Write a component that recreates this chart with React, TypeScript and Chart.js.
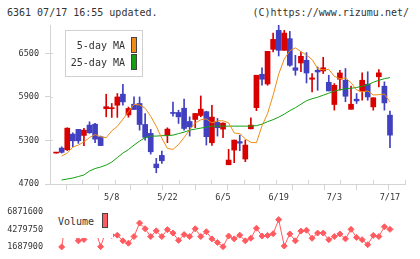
import React, { useEffect, useRef } from "react";
import { Chart, registerables } from "chart.js";

Chart.register(...registerables);

// ---- data -------------------------------------------------------------
const labelIdx = [10, 20, 30, 40, 50, 60];
const labelText = ["5/8", "5/22", "6/5", "6/19", "7/3", "7/17"];

const open = [
  5126, 5195, 5171, 5387, 5452, 5369, 5511, 5524, 5350, 5737,
  5737, 5785, 5937, 5652, 5799, 5809, 5520, 5397, 4975, 5094,
  5373, 5685, 5685, 5744, 5561, 5589, 5644, 5696, 5268, 5548,
  5456, 4965, 5167, 5284, 5044, 5460, 5751, 6211, 6078, 6555,
  6816, 6541, 6702, 6301, 6367, 6404, 6143, 6266, 6257, 6101,
  5795, 6143, 6129, 5729, 5868, 5978, 6074, 5762, 6177, 6047,
  5648,
];
const high = [
  5126, 5212, 5475, 5405, 5452, 5466, 5556, 5534, 5360, 5937,
  5809, 5946, 6074, 5760, 5899, 5899, 5671, 5452, 5053, 5153,
  5474, 5827, 5717, 5868, 5625, 5671, 5913, 5703, 5785, 5603,
  5542, 5177, 5305, 5373, 5305, 5611, 6198, 6301, 6527, 6779,
  6885, 6816, 6802, 6472, 6518, 6510, 6221, 6312, 6445, 6198,
  6083, 6266, 6290, 6047, 5946, 6230, 6246, 5888, 6276, 6107,
  5703,
];
const low = [
  5126, 5126, 5160, 5212, 5259, 5229, 5398, 5269, 5229, 5625,
  5617, 5617, 5785, 5620, 5726, 5442, 5305, 5112, 4855, 4984,
  5269, 5634, 5534, 5442, 5360, 5476, 5625, 5236, 5231, 5360,
  5339, 4965, 4993, 5158, 5007, 5460, 5710, 6060, 6060, 6518,
  6463, 6541, 6321, 6198, 6246, 6092, 5968, 5991, 6221, 5982,
  5717, 5991, 5833, 5729, 5809, 5854, 5854, 5717, 6037, 5717,
  5199,
];
const close = [
  5126, 5136, 5469, 5295, 5295, 5442, 5405, 5318, 5229, 5765,
  5751, 5899, 5831, 5740, 5726, 5520, 5342, 5144, 4924, 5020,
  5456, 5672, 5625, 5465, 5488, 5671, 5731, 5351, 5621, 5476,
  5538, 5030, 5305, 5262, 5236, 5511, 6198, 6143, 6527, 6692,
  6541, 6779, 6335, 6266, 6459, 6229, 6161, 6243, 6301, 5982,
  6060, 6230, 5909, 5799, 5844, 6129, 5899, 5888, 6231, 5817,
  5373,
];
const ma5 = [
  null, 5085, 5126, 5208, 5236, 5280, 5340, 5381, 5351, 5338,
  5432, 5494, 5592, 5695, 5797, 5789, 5743, 5632, 5494, 5331,
  5190, 5177, 5243, 5339, 5448, 5541, 5584, 5596, 5541, 5572,
  5570, 5543, 5403, 5394, 5322, 5274, 5269, 5502, 5670, 5923,
  6214, 6420, 6536, 6575, 6523, 6476, 6414, 6290, 6272, 6279,
  6183, 6149, 6163, 6096, 5996, 5968, 5982, 5926, 5930, 5937,
  5831,
];
const ma25 = [
  null, 4755, 4769, 4782, 4803, 4824, 4879, 4913, 4934, 4961,
  5002, 5064, 5126, 5174, 5236, 5291, 5339, 5360, 5360, 5366,
  5366, 5373, 5394, 5414, 5442, 5456, 5470, 5483, 5497, 5497,
  5497, 5497, 5497, 5497, 5497, 5497, 5504, 5524, 5559, 5586,
  5621, 5662, 5710, 5751, 5799, 5847, 5875, 5895, 5923, 5950,
  5978, 5998, 6012, 6019, 6029, 6047, 6067, 6101, 6129, 6150,
  6166,
];
const volume = [
  null, 1687900, 6871600, 3527300, 2588300, 2794100, 3913150, 4427650, 1726500, 4170400,
  3398600, 3437200, 2588300, 2241000, 3231400, 5238000, 4389100, 3231400, 4080400, 3231400,
  4260400, 3745900, 2665500, 3527300, 3231400, 4389100, 3231400, 3951700, 2884100, 2331000,
  1720000, 3308600, 2884100, 3437200, 2588300, 2974200, 4466200, 3308600, 3398600, 3655900,
  5752500, 1816500, 3617300, 2588300, 4041800, 4170400, 2974200, 3745900, 3745900, 2755500,
  3231400, 3617300, 2884100, 4299000, 3102800, 2755500, 2022300, 3398600, 3231400, 4684900,
  4299000,
];
const priceTicks = [4700, 5300, 5900, 6500];
const volumeTicks = [1687900, 4279750, 6871600];

// ---- styling ----------------------------------------------------------
const X_MIN = -1.1;
const X_MAX = 62.7;
const FONT = "'DejaVu Sans Mono', monospace";
const TEXT = "#333333";
const GRID = "#d4d4d4";
const UP = "#d90000";
const DOWN = "#4040c0";
const ORANGE = "#f08c14";
const GREEN = "#12a012";
const VOL = "#ff5a5f";

const candleColors = open.map((o, i) => (close[i] >= o ? UP : DOWN));
const tickFont = { family: FONT, size: 8.5 };

// short tick marks that cross into the plot from the axis lines
const innerTicks = {
  id: "innerTicks",
  beforeDatasetsDraw(chart: any) {
    const { ctx, chartArea, scales } = chart;
    ctx.save();
    ctx.strokeStyle = GRID;
    ctx.lineWidth = 1;
    scales.y.ticks.forEach((t: any) => {
      const py = Math.round(scales.y.getPixelForValue(t.value)) + 0.5;
      ctx.beginPath();
      ctx.moveTo(chartArea.left, py);
      ctx.lineTo(chartArea.left + 3, py);
      ctx.stroke();
    });
    scales.xg.ticks.forEach((t: any) => {
      const px = Math.round(scales.xg.getPixelForValue(t.value)) + 0.5;
      ctx.beginPath();
      ctx.moveTo(px, chartArea.bottom - 4);
      ctx.lineTo(px, chartArea.bottom);
      ctx.stroke();
    });
    ctx.restore();
  },
};

function PriceChart() {
  const ref = useRef<HTMLCanvasElement | null>(null);
  useEffect(() => {
    if (!ref.current) return;
    const divisions = 11;
    const gridTicks = Array.from({ length: divisions + 1 }, (_, k) => ({
      value: X_MIN + (k * (X_MAX - X_MIN)) / divisions,
    }));
    const chart = new Chart(ref.current, {
      type: "bar",
      data: {
        datasets: [
          {
            type: "line",
            label: "5-day MA",
            data: ma5.map((v, i) => ({ x: i, y: v })) as any,
            borderColor: ORANGE,
            borderWidth: 1,
            pointRadius: 0,
            order: 0,
          } as any,
          {
            type: "line",
            label: "25-day MA",
            data: ma25.map((v, i) => ({ x: i, y: v })) as any,
            borderColor: GREEN,
            borderWidth: 1,
            pointRadius: 0,
            order: 1,
          } as any,
          {
            label: "body",
            data: open.map((o, i) => ({ x: i, y: [o, close[i]] })) as any,
            backgroundColor: candleColors,
            barThickness: 5,
            minBarLength: 1,
            grouped: false,
            order: 2,
          },
          {
            label: "wick",
            data: low.map((l, i) => ({ x: i, y: [l, high[i]] })) as any,
            backgroundColor: candleColors,
            barThickness: 1,
            grouped: false,
            order: 3,
          },
        ],
      },
      options: {
        responsive: false,
        animation: false,
        layout: { padding: { left: 0, right: 15, top: 25, bottom: 0 } },
        plugins: { legend: { display: false }, tooltip: { enabled: false } },
        scales: {
          x: {
            type: "linear",
            min: X_MIN,
            max: X_MAX,
            offset: false,
            position: "bottom",
            weight: 1,
            grid: { display: false, drawTicks: false },
            border: { display: false },
            ticks: {
              font: tickFont,
              color: TEXT,
              padding: 3,
              maxRotation: 0,
              autoSkip: false,
              callback: (_v: any, idx: number) => labelText[idx],
            },
            afterBuildTicks: (s: any) => {
              s.ticks = labelIdx.map((v) => ({ value: v }));
            },
            afterFit: (s: any) => {
              s.height = 15;
            },
          },
          xg: {
            type: "linear",
            min: X_MIN,
            max: X_MAX,
            offset: false,
            position: "bottom",
            weight: 0,
            grid: { drawOnChartArea: false, drawTicks: true, tickLength: 6, color: GRID },
            border: { display: true, color: GRID },
            ticks: { display: false },
            afterBuildTicks: (s: any) => {
              s.ticks = gridTicks;
            },
            afterFit: (s: any) => {
              s.height = 6;
            },
          },
          y: {
            min: 4700,
            max: 6890,
            grid: { drawOnChartArea: false, drawTicks: true, tickLength: 5, color: GRID },
            border: { display: true, color: GRID },
            ticks: {
              font: tickFont,
              color: TEXT,
              padding: 6,
              callback: (v: any) => String(v),
            },
            afterBuildTicks: (s: any) => {
              s.ticks = priceTicks.map((v) => ({ value: v }));
            },
            afterFit: (s: any) => {
              s.width = 50;
            },
          },
        },
      } as any,
      plugins: [innerTicks],
    });
    return () => chart.destroy();
  }, []);
  return (
    <canvas
      ref={ref}
      width={420}
      height={205}
      style={{ position: "absolute", left: 0, top: 0, width: 420, height: 205 }}
    />
  );
}

function VolumeChart() {
  const ref = useRef<HTMLCanvasElement | null>(null);
  useEffect(() => {
    if (!ref.current) return;
    const chart = new Chart(ref.current, {
      type: "line",
      data: {
        datasets: [
          {
            label: "Volume",
            data: volume.map((v, i) => ({ x: i, y: v })) as any,
            borderColor: VOL,
            backgroundColor: VOL,
            borderWidth: 1,
            pointStyle: "rectRot",
            pointRadius: 3,
            pointBorderWidth: 1,
            clip: false,
          } as any,
        ],
      },
      options: {
        responsive: false,
        animation: false,
        layout: { padding: { left: 0, right: 15, top: 9, bottom: 10 } },
        plugins: { legend: { display: false }, tooltip: { enabled: false } },
        scales: {
          x: { type: "linear", min: X_MIN, max: X_MAX, display: false },
          y: {
            min: volumeTicks[0],
            max: volumeTicks[2],
            grid: { display: false, drawTicks: false },
            border: { display: false },
            ticks: {
              font: tickFont,
              color: TEXT,
              padding: 7,
              callback: (v: any) => String(v),
            },
            afterBuildTicks: (s: any) => {
              s.ticks = volumeTicks.map((v) => ({ value: v }));
            },
            afterFit: (s: any) => {
              s.width = 50;
            },
          },
        },
      } as any,
    });
    return () => chart.destroy();
  }, []);
  return (
    <canvas
      ref={ref}
      width={420}
      height={59}
      style={{ position: "absolute", left: 0, top: 200, width: 420, height: 59 }}
    />
  );
}

const textStyle: React.CSSProperties = {
  position: "absolute",
  fontFamily: FONT,
  fontSize: 10,
  lineHeight: "12px",
  color: TEXT,
  whiteSpace: "nowrap",
};

const swatch = (left: number, top: number, h: number, bg: string): React.CSSProperties => ({
  position: "absolute",
  left,
  top,
  width: 6,
  height: h,
  boxSizing: "border-box",
  border: "1px solid #444",
  background: bg,
});

export default function App() {
  return (
    <div
      style={{
        position: "fixed",
        left: 0,
        top: 0,
        width: 420,
        height: 259,
        background: "#fff",
        overflow: "hidden",
      }}
    >
      <div style={{ ...textStyle, left: 7, top: 7 }}>6361 07/17 16:55 updated.</div>
      <div style={{ ...textStyle, right: 11, top: 7 }}>(C)https://www.rizumu.net/</div>

      <PriceChart />
      <VolumeChart />

      {/* moving-average legend */}
      <div
        style={{
          position: "absolute",
          left: 65,
          top: 30,
          width: 78,
          height: 47,
          boxSizing: "border-box",
          border: "1px solid #d0d0d0",
          background: "#fff",
        }}
      />
      <div style={{ ...textStyle, left: 45, width: 80, top: 40, textAlign: "right" }}>5-day MA</div>
      <div style={swatch(131, 37, 16, ORANGE)} />
      <div style={{ ...textStyle, left: 45, width: 80, top: 57, textAlign: "right" }}>25-day MA</div>
      <div style={swatch(131, 54, 16, GREEN)} />

      {/* volume legend */}
      <div
        style={{
          position: "absolute",
          left: 52,
          top: 203,
          width: 61,
          height: 35,
          background: "#fff",
        }}
      />
      <div style={{ ...textStyle, left: 58, top: 216 }}>Volume</div>
      <div style={swatch(102, 213, 15, VOL)} />
    </div>
  );
}
